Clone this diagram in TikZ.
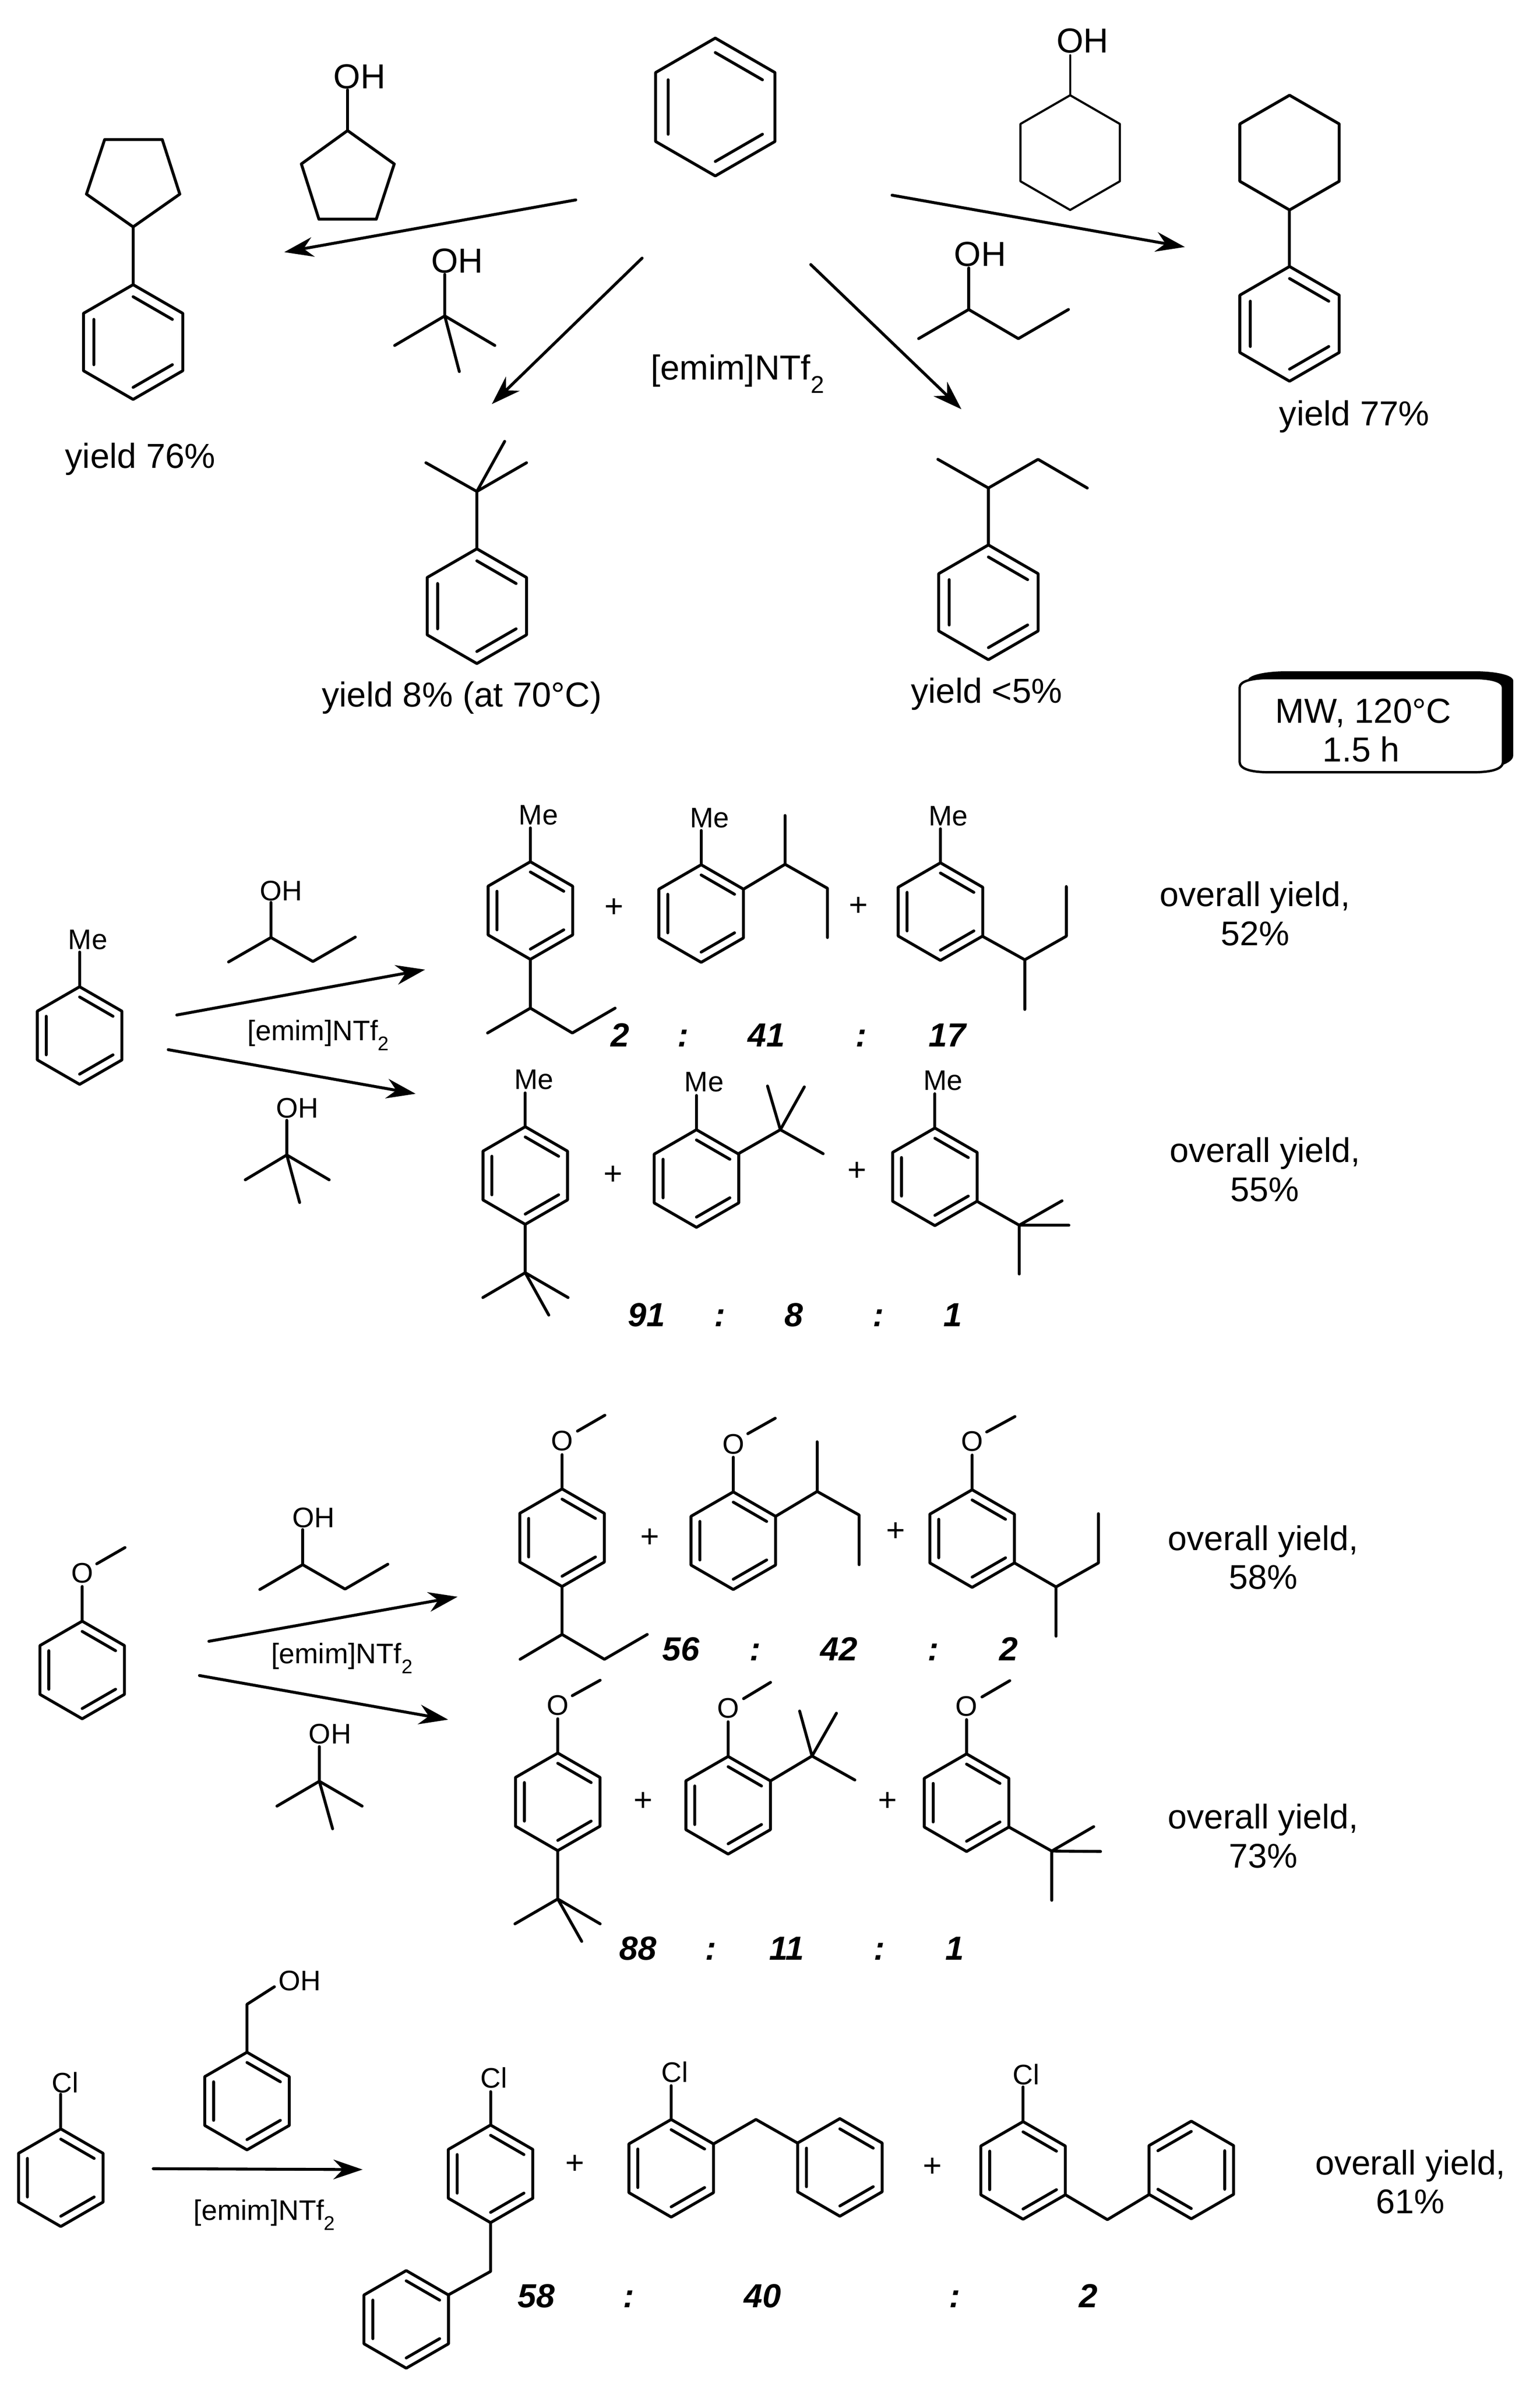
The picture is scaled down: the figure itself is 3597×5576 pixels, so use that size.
\documentclass[tikz,border=0pt]{standalone}
\usepackage{fontspec}
\setmainfont{Liberation Sans}
\usepackage{tikz}
\usetikzlibrary{arrows.meta}
\tikzset{bond/.style={line width=6.8pt,line cap=round,line join=round}}
\tikzset{thinbond/.style={line width=5pt,line cap=round,line join=round}}
\tikzset{rxn/.style={-{Stealth[length=68pt,width=46pt,inset=22pt]},line width=6.8pt,line cap=round}}
\tikzset{lab/.style={anchor=base,inner sep=0pt,font=\fontsize{81}{91}\selectfont}}
\tikzset{sublab/.style={anchor=base,inner sep=0pt,font=\fontsize{66}{70}\selectfont}}
\tikzset{ratio/.style={anchor=base,inner sep=0pt,font=\fontsize{78}{80}\bfseries\itshape\selectfont}}
\tikzset{plus/.style={inner sep=0pt,font=\fontsize{76}{78}\selectfont}}
\tikzset{yieldtxt/.style={inner sep=0pt,align=center,font=\fontsize{80}{91}\selectfont}}
\newcommand{\hexa}[3][bond]{\draw[#1,shift={(#3)}] (270:#2)--(330:#2)--(30:#2)--(90:#2)--(150:#2)--(210:#2)--cycle;}
\newcommand{\benz}[2]{\hexa{#1}{#2}
  \draw[bond,shift={(#2)}] (270:0.79*#1)--(330:0.79*#1) (150:0.79*#1)--(210:0.79*#1) (30:0.79*#1)--(90:0.79*#1);}
\newcommand{\benzr}[2]{\hexa{#1}{#2}
  \draw[bond,shift={(#2)}] (270:0.79*#1)--(210:0.79*#1) (330:0.79*#1)--(30:0.79*#1) (150:0.79*#1)--(90:0.79*#1);}
\newcommand{\ntf}{[emim]NTf\textsubscript{2}}
\begin{document}
\begin{tikzpicture}[x=1pt,y=-1pt]
        \useasboundingbox (0,0) rectangle (3597,5576);
        \benz{161}{1671,250}
        \draw[bond] (244.5,326)--(379,326)--(420,453.5)--(311,530)--(202,453.5)--cycle;
        \draw[bond] (311,530)--(311,665);
        \benz{134}{311,799}
        \node[lab] (y76) at (328,1093) {yield 76\%};
        \draw[bond] (812,305)--(921,383)--(879,512)--(745,512)--(704,383)--cycle;
        \draw[bond] (812,305)--(812,210);
        \node[lab] (oh1) at (840,207) {OH};
        \coordinate (a1) at (1345,467);
        \coordinate (b1) at (664,589);
        \draw[rxn] (a1) -- (b1);
        \draw[bond] (1039,641)--(1039,738) (922,807)--(1039,738)--(1156,807) (1039,738)--(1073,868);
        \node[lab] (oh2) at (1068,637) {OH};
        \coordinate (a2) at (1500,603);
        \coordinate (b2) at (1149,944);
        \draw[rxn] (a2) -- (b2);
        \draw[bond] (995,1081)--(1114,1148)--(1230,1081) (1179,1031)--(1114,1148)--(1114,1282);
        \benz{134}{1114,1416}
        \node[lab] (y8) at (1079,1651) {yield 8\% (at 70°C)};
        \node[lab] (il1) at (1723,887) {\ntf};
        \hexa[thinbond]{134}{2500,356.5}
        \draw[thinbond] (2500,223)--(2500,129);
        \node[lab] (oh3) at (2529,123) {OH};
        \coordinate (a3) at (2084,456);
        \coordinate (b3) at (2768,577);
        \draw[rxn] (a3) -- (b3);
        \hexa{134}{3012.5,356.5}
        \draw[bond] (3012.5,490)--(3012.5,623);
        \benz{134}{3012.5,756.5}
        \node[lab] (y77) at (3164,994) {yield 77\%};
        \draw[bond] (2146,791)--(2263,723)--(2379,791)--(2496,723) (2263,723)--(2263,626);
        \node[lab] (oh4) at (2290,622) {OH};
        \coordinate (a4) at (1894,618);
        \coordinate (b4) at (2246,956);
        \draw[rxn] (a4) -- (b4);
        \draw[bond] (2191,1073)--(2309,1140)--(2425,1073)--(2540,1140) (2309,1140)--(2309,1273);
        \benz{134}{2309,1407}
        \node[lab] (y5) at (2305,1642) {yield <5\%};
        \fill (2915,1590) .. controls (2915,1576) and (2960,1568) .. (3005,1568) -- (3445,1568)
            .. controls (3490,1568) and (3535,1576) .. (3535,1590) -- (3535,1765)
            .. controls (3535,1776) and (3520,1785) .. (3500,1790) -- (2950,1790) -- cycle;
        \draw[fill=white,line width=5.5pt] (2896,1606) .. controls (2896,1592) and (2921,1584) .. (2966,1584) -- (3441,1584)
            .. controls (3486,1584) and (3511,1592) .. (3511,1606) -- (3511,1780)
            .. controls (3511,1796) and (3486,1804) .. (3441,1804) -- (2966,1804)
            .. controls (2921,1804) and (2896,1796) .. (2896,1780) -- cycle;
        \node[lab] (mw1) at (3185,1689) {MW, 120°C};
        \node[lab] (mw2) at (3180,1779) {1.5 h};
        % toluene
        \benz{114}{186,2419}
        \draw[bond] (186,2305)--(186,2224);
        \node[sublab] (me0) at (205,2217) {Me};
        \draw[bond] (534,2247)--(633,2190)--(731,2246)--(830,2189) (633,2190)--(633,2108);
        \node[sublab] (oh5) at (657,2104) {OH};
        \coordinate (a5) at (413,2371);
        \coordinate (b5) at (993,2265);
        \draw[rxn] (a5) -- (b5);
        \node[sublab] (il2) at (744,2430) {\ntf};
        \coordinate (a6) at (393,2452);
        \coordinate (b6) at (971,2555);
        \draw[rxn] (a6) -- (b6);
        \draw[bond] (670,2617)--(670,2698) (573,2756)--(670,2698)--(769,2756) (670,2698)--(700,2809);
        \node[sublab] (oh6) at (695,2611) {OH};
        \benz{114}{1239,2127}
        \draw[bond] (1239,2013)--(1239,1934);
        \node[sublab] (me1) at (1258,1927) {Me};
        \draw[bond] (1239,2241)--(1239,2355) (1139,2413)--(1239,2355)--(1337,2413)--(1437,2355);
        \node[plus] (p1) at (1435,2121) {+};
        \benz{114}{1638,2134}
        \draw[bond] (1638,2020)--(1638,1940);
        \node[sublab] (me2) at (1658,1933) {Me};
        \draw[bond] (1737,2077)--(1834,2019)--(1933,2075)--(1933,2190) (1834,2019)--(1834,1905);
        \node[plus] (p2) at (2006,2118) {+};
        \benz{114}{2197,2129.5}
        \draw[bond] (2197,2015)--(2197,1936);
        \node[sublab] (me3) at (2215,1929) {Me};
        \draw[bond] (2295,2187)--(2394,2242)--(2491,2187)--(2491,2071) (2394,2242)--(2394,2358);
        \node[yieldtxt] (oy1) at (2932,2134) {overall yield,\\52\%};
        \node[ratio] (r11) at (1449,2445) {2};
        \node[ratio] (r12) at (1596,2445) {:};
        \node[ratio] (r13) at (1790,2445) {41};
        \node[ratio] (r14) at (2012,2445) {:};
        \node[ratio] (r15) at (2213,2445) {17};
        \benz{114}{1227,2746}
        \draw[bond] (1227,2632)--(1227,2553);
        \node[sublab] (me4) at (1247,2544) {Me};
        \draw[bond] (1227,2860)--(1227,2973) (1128,3031)--(1227,2973)--(1327,3031) (1227,2973)--(1282,3072);
        \node[plus] (p3) at (1432,2745) {+};
        \benz{114}{1627,2753}
        \draw[bond] (1627,2639)--(1627,2559);
        \node[sublab] (me5) at (1645,2550) {Me};
        \draw[bond] (1725,2695)--(1823,2639) (1793,2537)--(1823,2639)--(1879,2539) (1823,2639)--(1923,2695);
        \node[plus] (p4) at (2002,2736) {+};
        \benz{114}{2184,2749}
        \draw[bond] (2184,2635)--(2184,2555);
        \node[sublab] (me6) at (2203,2546) {Me};
        \draw[bond] (2282,2806)--(2381,2862)--(2481,2805) (2381,2862)--(2497,2862) (2381,2862)--(2381,2976);
        \node[yieldtxt] (oy2) at (2955,2732) {overall yield,\\55\%};
        \node[ratio] (r21) at (1510,3099) {91};
        \node[ratio] (r22) at (1682,3099) {:};
        \node[ratio] (r23) at (1855,3099) {8};
        \node[ratio] (r24) at (2052,3099) {:};
        \node[ratio] (r25) at (2226,3099) {1};
        % anisole
        \benz{114}{192,3901}
        \draw[bond] (192,3787)--(192,3706) (226,3653)--(292,3615);
        \node[sublab] (o0) at (192,3697) {O};
        \draw[bond] (607,3713)--(707,3655)--(806,3712)--(906,3654) (707,3655)--(707,3573);
        \node[sublab] (oh7) at (732,3568) {OH};
        \coordinate (a7) at (488,3834);
        \coordinate (b7) at (1069,3730);
        \draw[rxn] (a7) -- (b7);
        \node[sublab] (il3) at (799,3886) {\ntf};
        \coordinate (a8) at (466,3914);
        \coordinate (b8) at (1047,4017);
        \draw[rxn] (a8) -- (b8);
        \draw[bond] (746,4080)--(746,4161) (647,4219)--(746,4161)--(846,4219) (746,4161)--(777,4272);
        \node[sublab] (oh8) at (771,4073) {OH};
        \benz{114}{1313,3592}
        \draw[bond] (1313,3478)--(1313,3398) (1349,3343)--(1413,3306);
        \node[sublab] (o1) at (1313,3389) {O};
        \draw[bond] (1313,3706)--(1313,3818) (1215,3876)--(1313,3818)--(1412,3876)--(1512,3818);
        \node[plus] (p5) at (1518,3593) {+};
        \benz{114}{1713,3599}
        \draw[bond] (1713,3485)--(1713,3404) (1747,3349)--(1811,3313);
        \node[sublab] (o2) at (1713,3396) {O};
        \draw[bond] (1812,3542)--(1909,3484)--(2007,3539)--(2007,3655) (1909,3484)--(1909,3368);
        \node[plus] (p6) at (2092,3579) {+};
        \benz{114}{2271,3594}
        \draw[bond] (2271,3480)--(2271,3399) (2305,3345)--(2371,3309);
        \node[sublab] (o3) at (2271,3390) {O};
        \draw[bond] (2370,3651)--(2467,3707)--(2566,3651)--(2566,3536) (2467,3707)--(2467,3822);
        \node[yieldtxt] (oy3) at (2951,3638) {overall yield,\\58\%};
        \node[ratio] (r31) at (1591,3879) {56};
        \node[ratio] (r32) at (1764,3879) {:};
        \node[ratio] (r33) at (1960,3879) {42};
        \node[ratio] (r34) at (2180,3879) {:};
        \node[ratio] (r35) at (2356,3879) {2};
        \benz{114}{1303,4209}
        \draw[bond] (1303,4095)--(1303,4015) (1337,3961)--(1402,3925);
        \node[sublab] (o4) at (1303,4006) {O};
        \draw[bond] (1303,4323)--(1303,4436) (1203,4494)--(1303,4436)--(1402,4494) (1303,4436)--(1359,4535);
        \node[plus] (p7) at (1503,4209) {+};
        \benz{114}{1701,4217}
        \draw[bond] (1701,4103)--(1701,4022) (1737,3968)--(1800,3930);
        \node[sublab] (o5) at (1701,4013) {O};
        \draw[bond] (1800,4160)--(1897,4102) (1868,3997)--(1897,4102)--(1954,4002) (1897,4102)--(1997,4158);
        \node[plus] (p8) at (2074,4209) {+};
        \benz{114}{2258,4211}
        \draw[bond] (2258,4097)--(2258,4017) (2294,3964)--(2359,3926);
        \node[sublab] (o6) at (2258,4008) {O};
        \draw[bond] (2357,4268)--(2457,4324)--(2555,4267) (2457,4324)--(2571,4325) (2457,4324)--(2457,4439);
        \node[yieldtxt] (oy4) at (2951,4289) {overall yield,\\73\%};
        \node[ratio] (r41) at (1490,4578) {88};
        \node[ratio] (r42) at (1661,4578) {:};
        \node[ratio] (r43) at (1838,4578) {11};
        \node[ratio] (r44) at (2054,4578) {:};
        \node[ratio] (r45) at (2230,4578) {1};
        % chlorobenzene
        \benz{114}{142,5087}
        \draw[bond] (142,4973)--(142,4892);
        \node[sublab] (cl0) at (152,4888) {Cl};
        \benz{114}{577,4908}
        \draw[bond] (577,4794)--(577,4682)--(641,4641);
        \node[sublab] (oh9) at (700,4650) {OH};
        \coordinate (a9) at (358,5066);
        \coordinate (b9) at (847,5068);
        \draw[rxn] (a9) -- (b9);
        \node[sublab] (il4) at (618,5186) {\ntf};
        \benz{114}{1146,5078}
        \draw[bond] (1146,4964)--(1146,4886);
        \node[sublab] (cl1) at (1154,4877) {Cl};
        \draw[bond] (1146,5192)--(1146,5306)--(1047,5361);
        \benz{114}{949,5418}
        \node[plus] (p9) at (1343,5056) {+};
        \benz{114}{1568,5065}
        \draw[bond] (1568,4951)--(1568,4872);
        \node[sublab] (cl2) at (1576,4864) {Cl};
        \draw[bond] (1667,5008)--(1766,4951)--(1863,5006);
        \benz{114}{1962,5063}
        \node[plus] (p10) at (2178,5063) {+};
        \benz{114}{2390,5070}
        \draw[bond] (2390,4956)--(2390,4875);
        \node[sublab] (cl3) at (2397,4869) {Cl};
        \draw[bond] (2489,5127)--(2587,5185)--(2685,5126);
        \benzr{114}{2783,5069}
        \node[yieldtxt] (oy5) at (3295,5097) {overall yield,\\61\%};
        \node[ratio] (r51) at (1253,5390) {58};
        \node[ratio] (r52) at (1469,5390) {:};
        \node[ratio] (r53) at (1781,5390) {40};
        \node[ratio] (r54) at (2230,5390) {:};
        \node[ratio] (r55) at (2543,5390) {2};
\end{tikzpicture}
\end{document}
